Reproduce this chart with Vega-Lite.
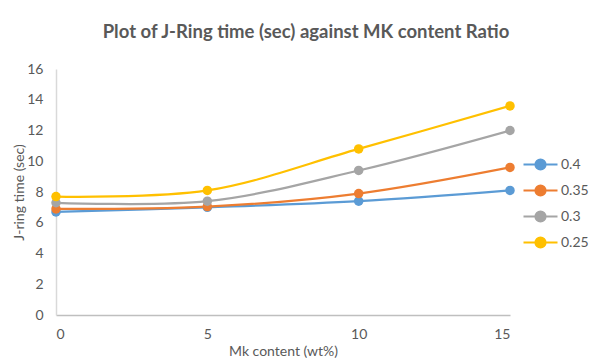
{
  "$schema": "https://vega.github.io/schema/vega-lite/v6.json",
  "width": 454,
  "height": 246,
  "autosize": {"type": "none"},
  "padding": {"left": 56, "top": 69, "right": 90, "bottom": 45},
  "background": "white",
  "title": {
    "text": "Plot of J-Ring time (sec) against MK content Ratio",
    "font": "Lato",
    "fontSize": 18.5,
    "fontWeight": "bold",
    "color": "#595959",
    "anchor": "middle",
    "frame": "group",
    "dx": 23,
    "offset": 21
  },
  "config": {
    "view": {"stroke": null},
    "font": "Lato"
  },
  "data": {
    "values": [
      {"ratio": "0.4", "mk": 0, "time": 6.7},
      {"ratio": "0.4", "mk": 5, "time": 7.0},
      {"ratio": "0.4", "mk": 10, "time": 7.4},
      {"ratio": "0.4", "mk": 15, "time": 8.1},
      {"ratio": "0.35", "mk": 0, "time": 6.9},
      {"ratio": "0.35", "mk": 5, "time": 7.05},
      {"ratio": "0.35", "mk": 10, "time": 7.9},
      {"ratio": "0.35", "mk": 15, "time": 9.6},
      {"ratio": "0.3", "mk": 0, "time": 7.3},
      {"ratio": "0.3", "mk": 5, "time": 7.4},
      {"ratio": "0.3", "mk": 10, "time": 9.4},
      {"ratio": "0.3", "mk": 15, "time": 12.0},
      {"ratio": "0.25", "mk": 0, "time": 7.7},
      {"ratio": "0.25", "mk": 5, "time": 8.1},
      {"ratio": "0.25", "mk": 10, "time": 10.8},
      {"ratio": "0.25", "mk": 15, "time": 13.6}
    ]
  },
  "encoding": {
    "x": {
      "field": "mk",
      "type": "quantitative",
      "scale": {"domain": [0, 15], "nice": false, "zero": false},
      "axis": {
        "title": "Mk content (wt%)",
        "values": [0, 5, 10, 15],
        "grid": false,
        "ticks": false,
        "domainColor": "#BFBFBF",
        "domainWidth": 1.5,
        "labelColor": "#595959",
        "labelFont": "Lato",
        "labelFontSize": 14,
        "labelPadding": 12,
        "titleColor": "#595959",
        "titleFont": "Lato",
        "titleFontSize": 14,
        "titleFontWeight": "normal",
        "titlePadding": 3
      }
    },
    "y": {
      "field": "time",
      "type": "quantitative",
      "scale": {"domain": [0, 16], "nice": false},
      "axis": {
        "title": "J-ring time (sec)",
        "values": [0, 2, 4, 6, 8, 10, 12, 14, 16],
        "grid": false,
        "ticks": false,
        "domainColor": "#D9D9D9",
        "domainWidth": 1.5,
        "labelColor": "#595959",
        "labelFont": "Lato",
        "labelFontSize": 14,
        "labelPadding": 13,
        "titleColor": "#595959",
        "titleFont": "Lato",
        "titleFontSize": 14,
        "titleFontWeight": "normal",
        "titlePadding": 0
      }
    },
    "color": {
      "field": "ratio",
      "type": "nominal",
      "scale": {
        "domain": ["0.4", "0.35", "0.3", "0.25"],
        "range": ["#5B9BD5", "#ED7D31", "#A5A5A5", "#FFC000"]
      },
      "legend": {
        "title": null,
        "orient": "none",
        "legendX": 475,
        "legendY": 86,
        "symbolType": "M-2,0L2,0M-0.6,0A0.6,0.6 0 1,1 0.6,0A0.6,0.6 0 1,1 -0.6,0",
        "symbolSize": 289,
        "symbolStrokeWidth": 2,
        "symbolOpacity": 1,
        "labelOffset": 11,
        "labelColor": "#595959",
        "labelFont": "Lato",
        "labelFontSize": 14,
        "rowPadding": 7
      }
    }
  },
  "layer": [
    {
      "mark": {"type": "line", "interpolate": "catmull-rom", "strokeWidth": 2.25}
    },
    {
      "mark": {"type": "point", "filled": true, "opacity": 1, "size": 90}
    }
  ]
}
